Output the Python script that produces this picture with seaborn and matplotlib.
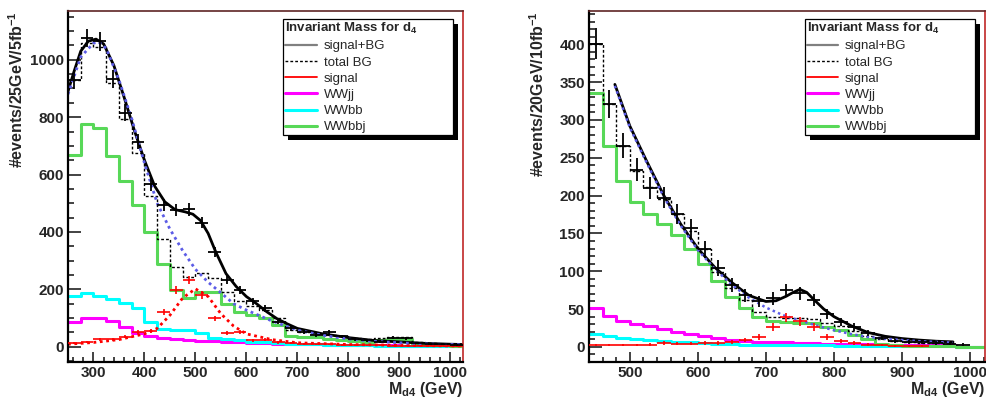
import numpy as np
import pandas as pd
import matplotlib
matplotlib.use("Agg")
import matplotlib.pyplot as plt
from matplotlib.lines import Line2D
from matplotlib.patches import Rectangle
from matplotlib.transforms import IdentityTransform
from matplotlib.ticker import MultipleLocator
import seaborn as sns

# ---- left panel: 25 GeV bins, 5 fb^-1 ----
l_edges = np.arange(250, 1026, 25)
l_wwbbj = [669, 777, 764, 665, 576, 494, 400, 290, 198, 169, 192, 190, 149, 122, 110, 99,
           76, 38, 33, 33, 28, 25, 20, 16, 22, 26, 26, 10, 6, 5, 4]
l_wwbb = [177, 188, 177, 165, 151, 134, 88, 62, 58, 57, 47, 30, 28, 22, 18, 16,
          12, 10, 9, 8, 7, 6, 5, 5, 4, 4, 3, 3, 3, 2, 2]
l_wwjj = [85, 99, 102, 90, 68, 47, 36, 32, 28, 24, 21, 19, 18, 16, 14, 12,
          11, 10, 9, 8, 7, 7, 6, 6, 5, 5, 4, 4, 4, 3, 3]
l_totbg = [931, 1060, 1043, 918, 795, 676, 524, 375, 279, 244, 256, 240, 190, 160, 142, 127,
           99, 58, 51, 49, 42, 38, 31, 27, 31, 35, 33, 16, 12, 9, 8]
l_data = [930, 1076, 1064, 934, 816, 715, 566, 494, 477, 479, 433, 330, 234, 198, 158, 134,
          88, 64, 52, 42, 50, 36, 26, 22, 18, 32, 29, 14, 10, 8, 6]
l_signal = [12, 17, 27, 27, 35, 52, 55, 122, 198, 233, 180, 99, 49, 50, 23, 25,
            15, 12, 10, 8, 8, 7, 6, 5, 5, 4, 4, 3, 3, 2, 2]

l_fit_x = [250, 262, 275, 290, 305, 320, 340, 360, 380, 400, 420, 440, 460, 480, 495, 510,
           525, 540, 560, 580, 600, 620, 640, 660, 680, 700, 750, 800, 850, 900, 950, 1000, 1025]
l_fit_y = [890, 960, 1030, 1065, 1072, 1055, 980, 870, 755, 650, 560, 505, 478, 470, 462, 440,
           395, 330, 255, 210, 175, 150, 122, 98, 80, 64, 45, 32, 22, 17, 12, 9, 8]
l_bgfit_x = [250, 275, 300, 310, 325, 350, 375, 400, 425, 450, 475, 500, 525, 550, 575, 600,
             650, 700, 750, 800, 850, 900, 950, 1000, 1025]
l_bgfit_y = [880, 1010, 1058, 1062, 1040, 930, 795, 640, 500, 410, 335, 270, 225, 188, 150, 128,
             90, 58, 40, 27, 19, 14, 10, 8, 7]
l_sigfit_x = [250, 300, 350, 400, 425, 450, 475, 500, 525, 550, 575, 600, 650, 700, 800, 900, 1000, 1025]
l_sigfit_y = [9, 15, 25, 45, 64, 110, 170, 202, 175, 115, 72, 45, 25, 14, 8, 5, 3, 3]

# ---- right panel: 20 GeV bins, 10 fb^-1 ----
r_edges = np.arange(440, 1021, 20)
r_wwbbj = [335, 266, 219, 192, 175, 162, 148, 130, 109, 87, 66, 51, 40, 34, 33, 32, 31, 26,
           22, 16, 10, 4, 2, 1.5, 1.5, 1.5, 1.5, 0, 0]
r_wwbb = [17, 15, 12, 10, 9, 8, 7, 6, 5, 4, 3.5, 3, 3, 2.5, 2, 2, 2, 2, 1.5, 1.5, 1.5,
          1, 1, 1, 1, 1, 1, 0, 0]
r_wwjj = [51, 41, 34, 30, 27, 23, 20, 17, 14, 12, 9, 8, 7, 6, 6, 5, 5, 4, 4, 4, 3.5,
          3, 3, 3, 2, 2, 2, 0, 0]
r_totbg = [401, 321, 265, 232, 211, 195, 175, 153, 130, 99, 78, 62, 46, 40, 38, 38, 37, 32,
           27, 21, 15, 10, 8, 6.5, 5, 4.5, 4.5]
r_data = [401, 321, 266, 234, 210, 197, 176, 157, 129, 104, 82, 68, 60, 64, 75, 71, 62, 44,
          33, 26, 18, 12, 8, 7, 6, 5, 4, 3]
r_signal = [2, 2, 2, 2, 3, 5, 4, 4, 5, 5, 7, 9, 13, 26, 39, 34, 26, 13, 8, 5, 3, 2, 1, 1, 1]

r_fit_x = [478, 500, 525, 550, 575, 600, 625, 650, 675, 700, 715, 730, 740, 750, 760, 770,
           785, 800, 825, 850, 875, 900, 925, 950, 975]
r_fit_y = [347, 292, 245, 200, 162, 130, 105, 85, 68, 60, 61, 67, 72, 76, 72, 63,
           50, 40, 28, 19, 14, 11, 9, 7.5, 6.6]
r_bgfit_x = [478, 500, 525, 550, 575, 600, 625, 650, 675, 700, 725, 750, 775, 800, 825, 850,
             875, 900, 925, 950, 975]
r_bgfit_y = [345, 290, 243, 198, 160, 128, 103, 82, 65, 52, 42, 35, 28, 22, 17, 13,
             11, 9, 7.5, 6.5, 5.6]

GREEN = "#58d858"
CYAN = "#00ffff"
MAGENTA = "#ff00ff"
RED = "#ff0000"
BLUE = "#5c5ce6"

sns.set_theme(style="ticks")
plt.rcParams["font.family"] = ["Liberation Sans", "DejaVu Sans"]
plt.rcParams["font.weight"] = "bold"
plt.rcParams["axes.labelweight"] = "bold"
plt.rcParams["mathtext.fontset"] = "custom"
plt.rcParams["mathtext.rm"] = "Liberation Sans"
plt.rcParams["mathtext.bf"] = "Liberation Sans:bold"
plt.rcParams["mathtext.it"] = "Liberation Sans:italic"


def step_frame(edges, vals):
    n = len(vals)
    x = list(edges[:n]) + [edges[n]]
    y = list(vals) + [vals[-1]]
    return pd.DataFrame({"x": x, "y": y})


def draw_hist(ax, edges, vals, **kw):
    sns.lineplot(data=step_frame(edges, vals), x="x", y="y", drawstyle="steps-post",
                 estimator=None, sort=False, ax=ax, **kw)


def draw_crosses(ax, edges, vals, color, lw):
    vals = np.asarray(vals, dtype=float)
    n = len(vals)
    centers = (edges[:n] + edges[1:n + 1]) / 2
    half = (edges[1] - edges[0]) / 2
    ax.errorbar(centers, vals, xerr=half, yerr=np.sqrt(vals), fmt="none",
                ecolor=color, elinewidth=lw, capsize=0, zorder=6)


def style_axes(ax, xlim, ylim, ymaj, ymin, ylabel):
    ax.set_xlim(*xlim)
    ax.set_ylim(*ylim)
    ax.xaxis.set_major_locator(MultipleLocator(100))
    ax.xaxis.set_minor_locator(MultipleLocator(20))
    ax.yaxis.set_major_locator(MultipleLocator(ymaj))
    ax.yaxis.set_minor_locator(MultipleLocator(ymin))
    ax.tick_params(which="both", direction="in", top=False, right=False,
                   labelsize=11, width=1.2, color="#222222")
    ax.tick_params(axis="y", which="major", length=9, pad=3)
    ax.tick_params(axis="y", which="minor", length=4)
    ax.tick_params(axis="x", which="major", length=7, pad=3)
    ax.tick_params(axis="x", which="minor", length=3.5)
    ax.spines["left"].set_color("black")
    ax.spines["left"].set_linewidth(1.6)
    ax.spines["bottom"].set_color("black")
    ax.spines["bottom"].set_linewidth(1.6)
    ax.spines["top"].set_color("#5e2424")
    ax.spines["top"].set_linewidth(1.2)
    ax.spines["right"].set_color("#c02828")
    ax.spines["right"].set_linewidth(1.2)
    ax.set_xlabel(r"M$_{\mathbf{d4}}$ (GeV)", fontsize=11.5, fontweight="bold", ha="right", va="top")
    ax.xaxis.set_label_coords(1.0, -0.05)
    ax.set_ylabel(ylabel, fontsize=11.5, fontweight="bold", ha="right", va="center")
    ax.yaxis.set_label_coords(-0.13, 1.0)


def add_legend(ax):
    handles = [
        Line2D([], [], color="#808080", lw=1.6),
        Line2D([], [], color="black", lw=1.0, ls=(0, (2, 1.5))),
        Line2D([], [], color=RED, lw=1.3),
        Line2D([], [], color=MAGENTA, lw=2.2),
        Line2D([], [], color=CYAN, lw=2.2),
        Line2D([], [], color=GREEN, lw=2.2),
    ]
    labels = ["signal+BG", "total BG", "signal", "WWjj", "WWbb", "WWbbj"]
    leg = ax.legend(handles, labels, loc="upper left",
                    bbox_to_anchor=(0.545, 0.652, 0.43, 0.325), mode="expand",
                    borderaxespad=0, title=r"Invariant Mass for d$_{\mathbf{4}}$",
                    title_fontproperties={"weight": "bold", "size": 9.5},
                    alignment="left", prop={"weight": "normal", "size": 9.5},
                    frameon=True, fancybox=False, edgecolor="black", facecolor="white",
                    framealpha=1, handlelength=2.4, handletextpad=0.5,
                    labelspacing=0.3, borderpad=0.15)
    leg.get_frame().set_linewidth(0.9)
    leg.set_zorder(10)
    return leg


fig = plt.figure(figsize=(9.87, 3.97), dpi=100)
ax1 = fig.add_axes([68 / 987, 1 - 362 / 397, 395 / 987, 351 / 397])
ax2 = fig.add_axes([589 / 987, 1 - 362 / 397, 396 / 987, 351 / 397])

# left panel
draw_hist(ax1, l_edges, l_wwjj, color=MAGENTA, lw=2.2)
draw_hist(ax1, l_edges, l_wwbb, color=CYAN, lw=2.2)
draw_hist(ax1, l_edges, l_wwbbj, color=GREEN, lw=2.2)
draw_hist(ax1, l_edges, l_totbg, color="black", lw=1.0, ls=(0, (2, 1.5)))
draw_crosses(ax1, l_edges, l_signal, RED, 1.2)
sns.lineplot(x=l_sigfit_x, y=l_sigfit_y, ax=ax1, color=RED, lw=2.0, ls=(0, (1, 1.3)),
             estimator=None, sort=False)
sns.lineplot(x=l_fit_x, y=l_fit_y, ax=ax1, color="black", lw=2.0,
             estimator=None, sort=False)
sns.lineplot(x=l_bgfit_x, y=l_bgfit_y, ax=ax1, color=BLUE, lw=2.0, ls=(0, (1, 1.3)),
             estimator=None, sort=False)
draw_crosses(ax1, l_edges, l_data, "black", 1.3)
style_axes(ax1, (250, 1025), (-53, 1170), 200, 50, r"#events/25GeV/5fb$^{\mathbf{-1}}$")

# right panel
draw_hist(ax2, r_edges, r_wwjj, color=MAGENTA, lw=2.2)
draw_hist(ax2, r_edges, r_wwbb, color=CYAN, lw=2.2)
draw_hist(ax2, r_edges, r_wwbbj, color=GREEN, lw=2.2)
draw_hist(ax2, r_edges, r_totbg, color="black", lw=1.0, ls=(0, (2, 1.5)))
draw_crosses(ax2, r_edges, r_signal, RED, 1.2)
sns.lineplot(x=r_fit_x, y=r_fit_y, ax=ax2, color="black", lw=2.0,
             estimator=None, sort=False)
sns.lineplot(x=r_bgfit_x, y=r_bgfit_y, ax=ax2, color=BLUE, lw=1.8, ls=(0, (1, 1.3)),
             estimator=None, sort=False)
draw_crosses(ax2, r_edges, r_data, "black", 1.3)
style_axes(ax2, (440, 1022), (-20, 444), 50, 10, r"#events/20GeV/10fb$^{\mathbf{-1}}$")

legends = [add_legend(ax1), add_legend(ax2)]
fig.canvas.draw()
for ax, leg in zip([ax1, ax2], legends):
    bb = leg.get_window_extent()
    shadow = Rectangle((bb.x0 + 5, bb.y0 - 5), bb.width, bb.height, transform=IdentityTransform(),
                       facecolor="black", edgecolor="none", zorder=9, clip_on=False)
    ax.add_patch(shadow)

fig.savefig("out.png", dpi=100)
